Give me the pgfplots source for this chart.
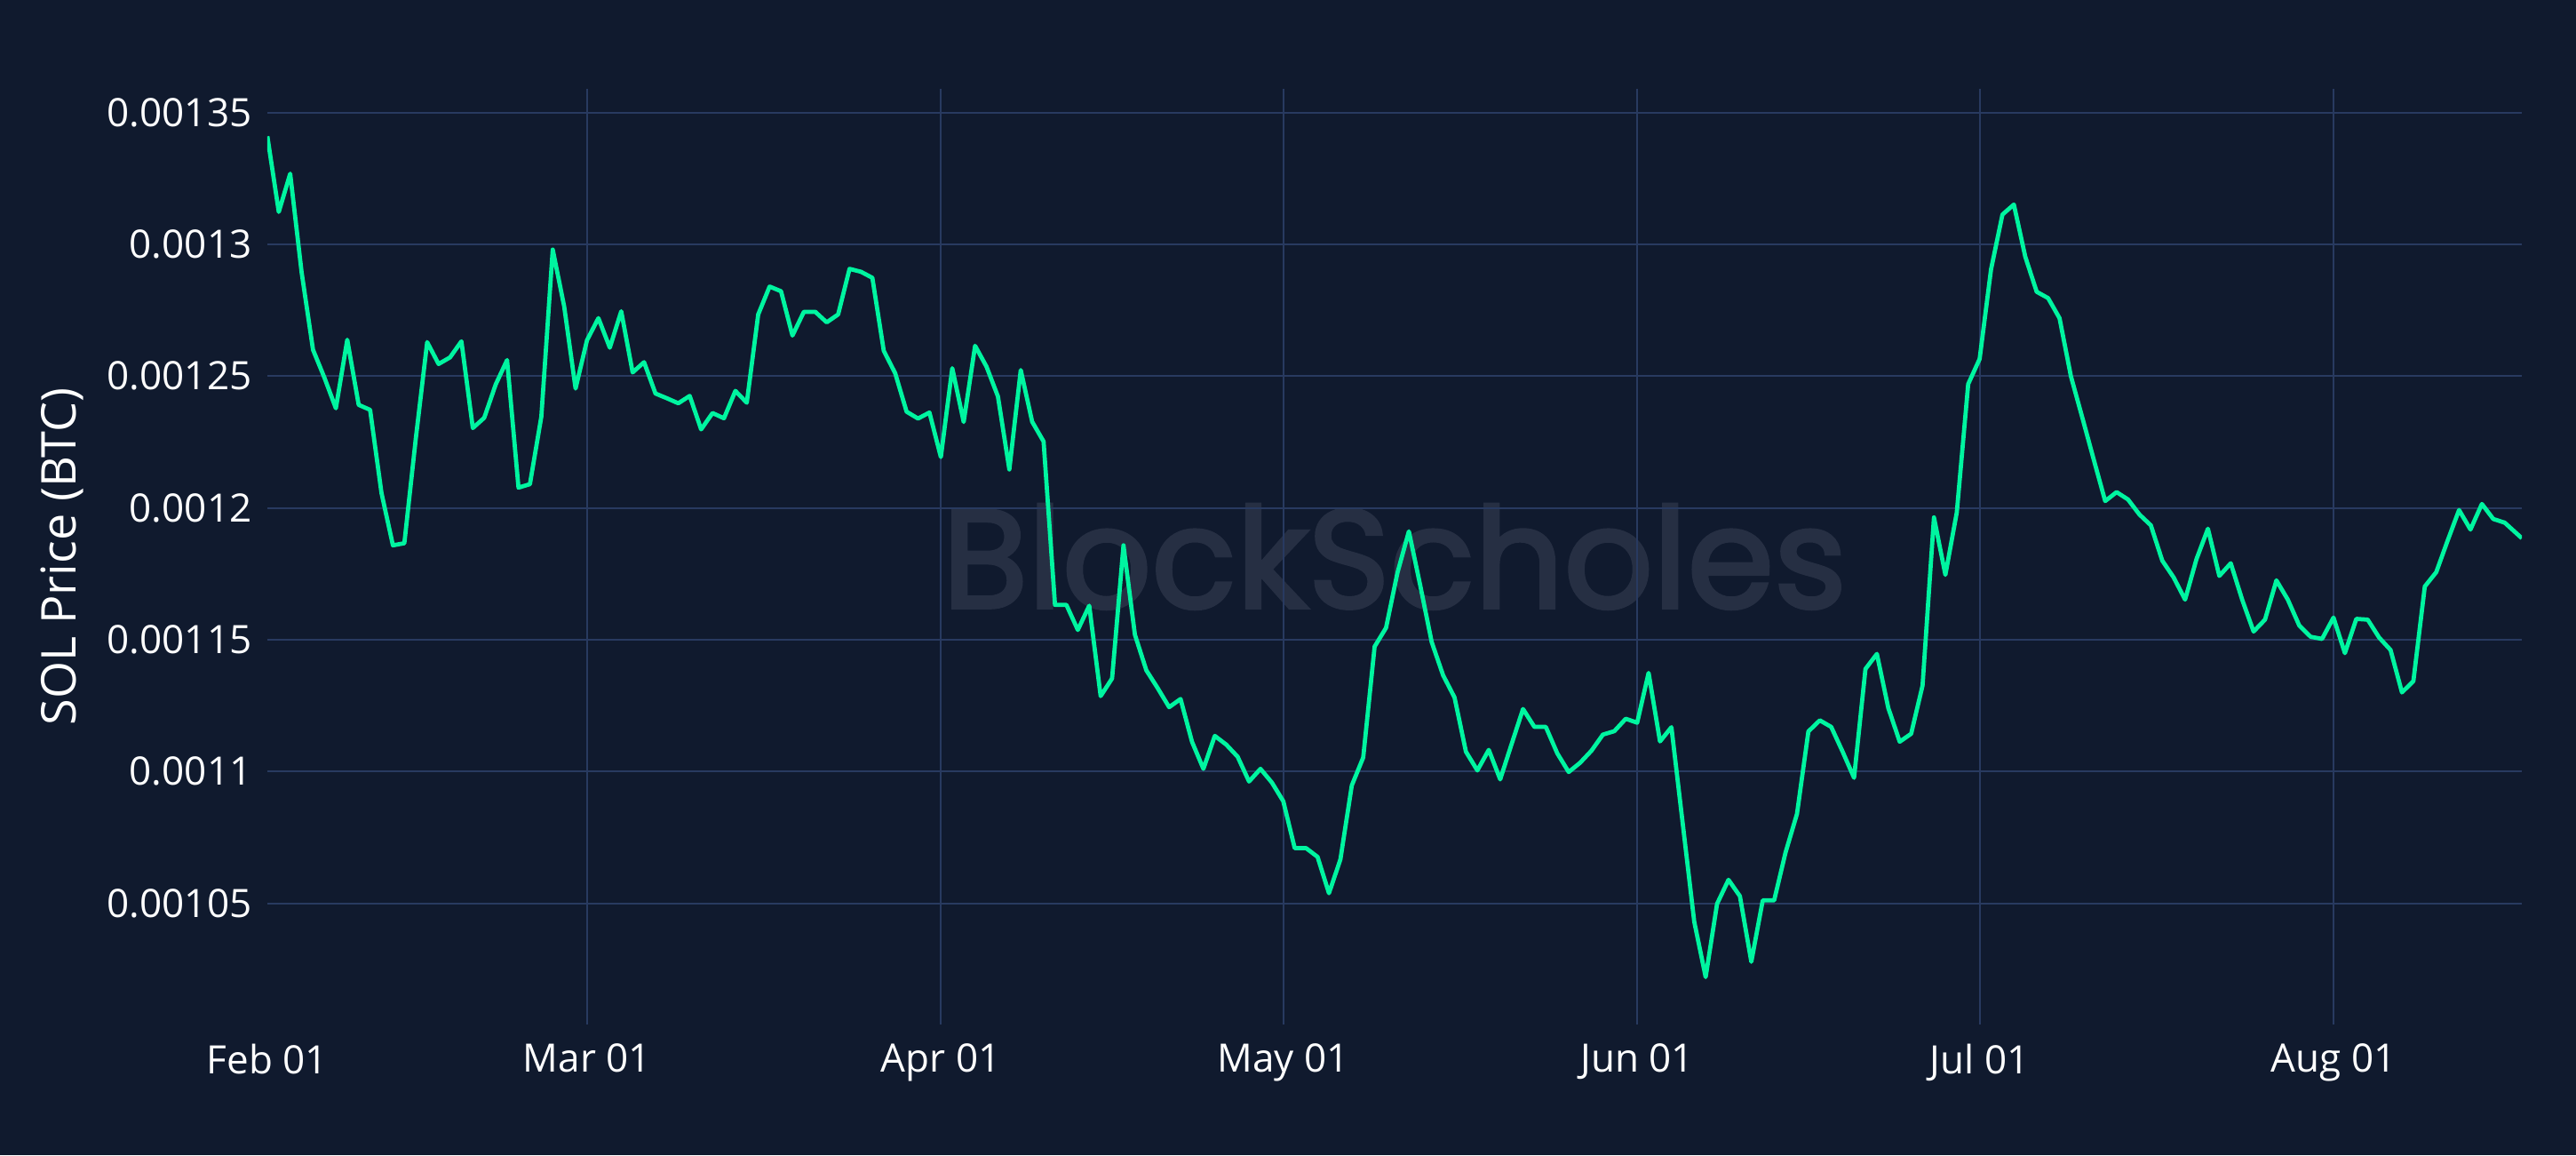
\documentclass[border=0pt]{standalone}
\usepackage{fontspec}
\setmainfont{Open Sans}
\newfontfamily\wmfont[FakeBold=2.5]{Poppins}
\usepackage{graphicx}
\usepackage{pgfplots}
\pgfplotsset{compat=1.18}
\usepackage{pgfplotstable}
\definecolor{bgc}{RGB}{16,26,46}
\definecolor{gridc}{RGB}{40,58,96}
\definecolor{linec}{RGB}{0,245,160}
\definecolor{wmc}{RGB}{38,47,67}

\pgfplotstableread{
d v
0 0.0013410
1 0.0013123
2 0.0013268
3 0.0012894
4 0.0012600
5 0.0012494
6 0.0012378
7 0.0012638
8 0.0012391
9 0.0012372
10 0.0012056
11 0.0011858
12 0.0011866
13 0.0012262
14 0.0012629
15 0.0012546
16 0.0012571
17 0.0012632
18 0.0012303
19 0.0012342
20 0.0012468
21 0.0012561
22 0.0012077
23 0.0012090
24 0.0012346
25 0.0012980
26 0.0012765
27 0.0012453
28 0.0012636
29 0.0012720
30 0.0012608
31 0.0012746
32 0.0012514
33 0.0012553
34 0.0012434
35 0.0012416
36 0.0012397
37 0.0012425
38 0.0012298
39 0.0012360
40 0.0012340
41 0.0012444
42 0.0012399
43 0.0012734
44 0.0012840
45 0.0012822
46 0.0012654
47 0.0012744
48 0.0012744
49 0.0012704
50 0.0012734
51 0.0012907
52 0.0012896
53 0.0012873
54 0.0012596
55 0.0012511
56 0.0012365
57 0.0012339
58 0.0012362
59 0.0012193
60 0.0012530
61 0.0012326
62 0.0012615
63 0.0012536
64 0.0012423
65 0.0012146
66 0.0012523
67 0.0012327
68 0.0012252
69 0.0011632
70 0.0011632
71 0.0011537
72 0.0011629
73 0.0011286
74 0.0011353
75 0.0011858
76 0.0011519
77 0.0011384
78 0.0011316
79 0.0011244
80 0.0011275
81 0.0011113
82 0.0011010
83 0.0011135
84 0.0011102
85 0.0011056
86 0.0010962
87 0.0011010
88 0.0010958
89 0.0010887
90 0.0010709
91 0.0010709
92 0.0010676
93 0.0010538
94 0.0010666
95 0.0010947
96 0.0011053
97 0.0011474
98 0.0011545
99 0.0011754
100 0.0011911
101 0.0011705
102 0.0011491
103 0.0011365
104 0.0011281
105 0.0011075
106 0.0011004
107 0.0011082
108 0.0010970
109 0.0011104
110 0.0011237
111 0.0011169
112 0.0011169
113 0.0011069
114 0.0010998
115 0.0011033
116 0.0011079
117 0.0011140
118 0.0011153
119 0.0011200
120 0.0011185
121 0.0011374
122 0.0011114
123 0.0011168
124 0.0010799
125 0.0010430
126 0.0010220
127 0.0010498
128 0.0010589
129 0.0010527
130 0.0010278
131 0.0010511
132 0.0010511
133 0.0010693
134 0.0010839
135 0.0011152
136 0.0011194
137 0.0011169
138 0.0011075
139 0.0010976
140 0.0011389
141 0.0011446
142 0.0011241
143 0.0011113
144 0.0011143
145 0.0011326
146 0.0011964
147 0.0011746
148 0.0011983
149 0.0012470
150 0.0012565
151 0.0012905
152 0.0013113
153 0.0013151
154 0.0012953
155 0.0012820
156 0.0012796
157 0.0012720
158 0.0012499
159 0.0012342
160 0.0012183
161 0.0012026
162 0.0012060
163 0.0012032
164 0.0011975
165 0.0011934
166 0.0011800
167 0.0011736
168 0.0011652
169 0.0011806
170 0.0011921
171 0.0011742
172 0.0011790
173 0.0011652
174 0.0011531
175 0.0011576
176 0.0011725
177 0.0011652
178 0.0011554
179 0.0011511
180 0.0011503
181 0.0011584
182 0.0011449
183 0.0011579
184 0.0011576
185 0.0011508
186 0.0011461
187 0.0011300
188 0.0011343
189 0.0011702
190 0.0011756
191 0.0011876
192 0.0011992
193 0.0011918
194 0.0012015
195 0.0011958
196 0.0011944
197.5 0.0011885
}\soldata

\begin{document}
\begin{tikzpicture}
\fill[bgc] (-60.2pt,-29.4pt) rectangle (519.8pt,230.6pt);
\begin{axis}[scale only axis, width=507.6pt, height=210.6pt,
  xmin=0, xmax=197.5, ymin=0.001004, ymax=0.001359, hide axis]
\node[text=wmc, anchor=center, inner sep=0pt] at (rel axis cs:0.5,0.5) {\resizebox{203.6pt}{!}{\wmfont BlockScholes}};
\end{axis}
\begin{axis}[scale only axis, width=507.6pt, height=210.6pt,
  xmin=0, xmax=197.5, ymin=0.001004, ymax=0.001359,
  axis line style={draw=none},
  major tick length=0pt,
  grid=major,
  grid style={gridc, line width=0.4pt},
  xtick={28,59,89,120,150,181},
  xticklabels={Mar 01,Apr 01,May 01,Jun 01,Jul 01,Aug 01},
  extra x ticks={0},
  extra x tick labels={Feb 01},
  extra x tick style={grid=none},
  ytick={0.00105,0.0011,0.00115,0.0012,0.00125,0.0013,0.00135},
  yticklabels={0.00105,0.0011,0.00115,0.0012,0.00125,0.0013,0.00135},
  scaled y ticks=false,
  tick label style={font=\fontsize{8.8}{10}\selectfont, text=white},
  xticklabel style={yshift=-0.8pt},
  ylabel={SOL Price (BTC)},
  every axis y label/.style={at={(axis description cs:-0.091,0.5)}, rotate=90, anchor=center, font=\fontsize{10.8}{12}\selectfont, text=white},
]
\addplot[linec, line width=0.95pt, line join=round, mark=none] table[x=d,y=v]{\soldata};
\end{axis}
\end{tikzpicture}
\end{document}
